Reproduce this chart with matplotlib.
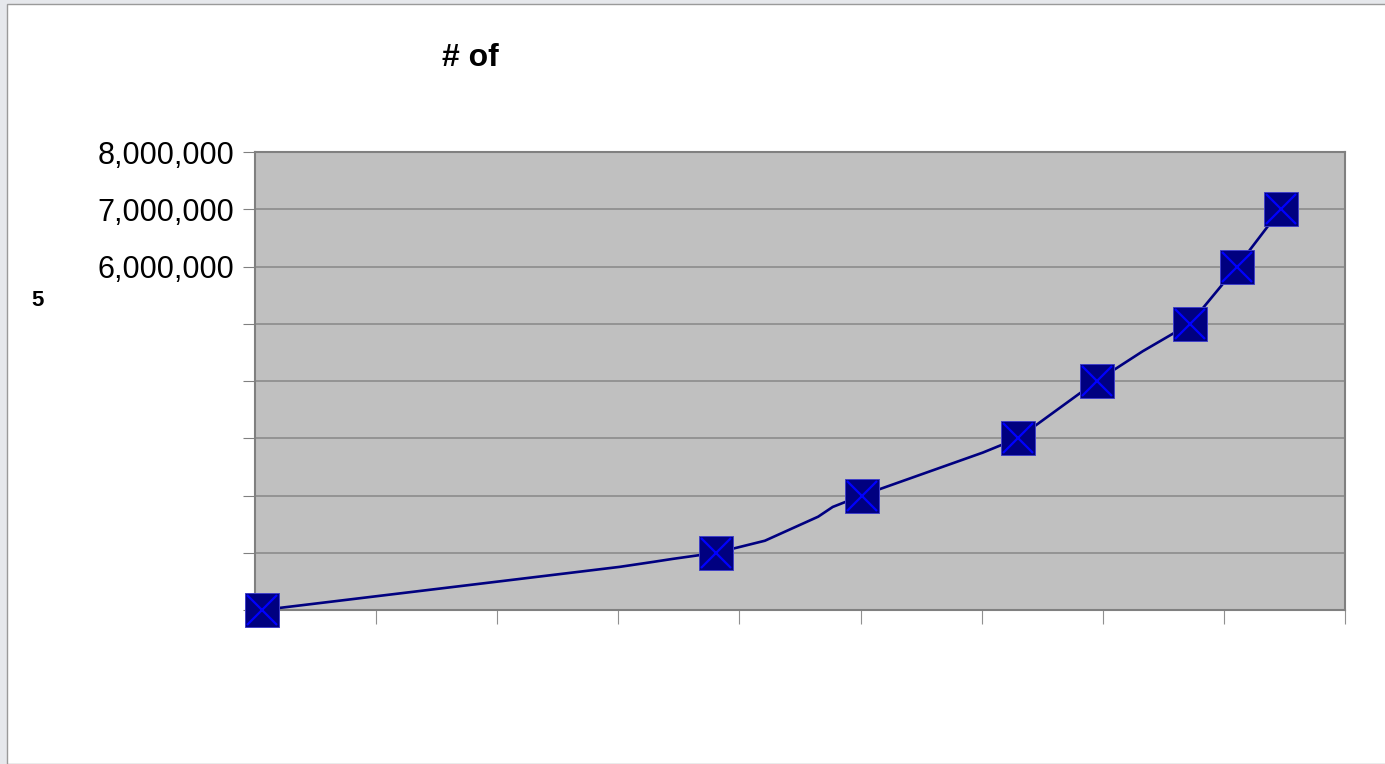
import matplotlib
matplotlib.use("Agg")
from matplotlib import pyplot as plt
from matplotlib.patches import Rectangle
from matplotlib.ticker import FuncFormatter, MultipleLocator

plt.rcParams['font.family'] = ['Liberation Sans', 'DejaVu Sans']

# positions along the (unlabelled) x axis, in tick units
line_x = [0.06, 3.01, 3.29, 3.45, 3.81, 4.21, 4.65, 4.77, 5.01, 6.01, 6.30,
          6.95, 7.33, 7.72, 8.11, 8.47]
line_y = [0, 753000, 841000, 893000, 1000000, 1210000, 1630000, 1800000,
          2000000, 2750000, 3000000, 4000000, 4520000, 5000000, 6000000, 7000000]
marker_idx = [0, 4, 8, 10, 11, 13, 14, 15]
labelled_ticks = [6000000, 7000000, 8000000]

fig = plt.figure(figsize=(13.85, 7.64), dpi=100)
fig.patch.set_facecolor('#e6e8ec')
fig.patches.append(Rectangle((7/1385, 0), 1, 1 - 4/764, transform=fig.transFigure,
                             facecolor='white', edgecolor='#9a9a9a', lw=1, zorder=-5))

ax = fig.add_axes([255/1385, 1 - 610/764, 1090/1385, 458/764])
ax.set_zorder(2)
ax.set_facecolor('#c0c0c0')

ax.plot(line_x, line_y, color='#000080', lw=1.9, zorder=3)
mx = [line_x[i] for i in marker_idx]
my = [line_y[i] for i in marker_idx]
ax.plot(mx, my, ls='none', marker='s', markersize=24, markerfacecolor='#000080',
        markeredgecolor='#4040c8', markeredgewidth=0.7, zorder=4, clip_on=False)
ax.plot(mx, my, ls='none', marker='x', markersize=21, markeredgecolor='#0000ff',
        markeredgewidth=1.6, zorder=5, clip_on=False)

ax.set_xlim(0, 9)
ax.set_ylim(0, 8000000)
ax.xaxis.set_major_locator(MultipleLocator(1))
ax.yaxis.set_major_locator(MultipleLocator(1000000))
ax.yaxis.set_major_formatter(FuncFormatter(
    lambda v, p: '{:,}'.format(int(round(v))) if int(round(v)) in labelled_ticks else ''))
ax.set_xticklabels([])
ax.grid(axis='y', color='#8c8c8c', lw=1.2)
ax.set_axisbelow(True)
ax.tick_params(axis='y', length=9, color='#808080', labelsize=22, pad=6)
ax.tick_params(axis='x', length=10, color='#909090')
for s in ax.spines.values():
    s.set_color('#808080')
    s.set_linewidth(1.5)

fig.text(470/1385, 1 - 58/764, '# of', ha='center', va='center',
         fontsize=23, fontweight='bold')
fig.text(38/1385, 1 - 300/764, '5', ha='center', va='center',
         fontsize=16, fontweight='bold')

fig.savefig('out.png', dpi=100, facecolor=fig.get_facecolor())
